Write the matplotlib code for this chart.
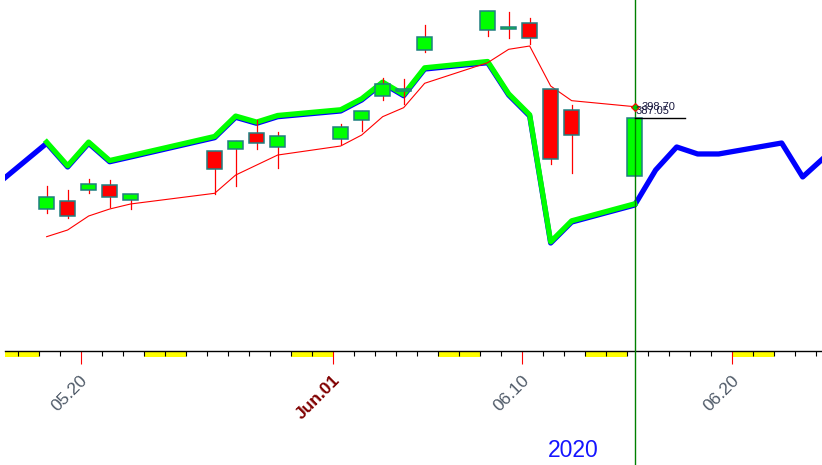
import numpy as np
import matplotlib
matplotlib.use("Agg")
import matplotlib.pyplot as plt
import matplotlib.transforms as mtransforms
from matplotlib.patches import Rectangle

plt.rcParams['font.family'] = ['Liberation Sans', 'DejaVu Sans']

# ---- data ----
dates = ["2020-05-18", "2020-05-19", "2020-05-20", "2020-05-21", "2020-05-22",
         "2020-05-26", "2020-05-27", "2020-05-28", "2020-05-29", "2020-06-01",
         "2020-06-02", "2020-06-03", "2020-06-04", "2020-06-05", "2020-06-08",
         "2020-06-09", "2020-06-10", "2020-06-11", "2020-06-12", "2020-06-15"]
opens  = [293.0, 301.6, 312.6, 318.0, 302.9, 353.1, 354.8, 371.6, 356.9, 365.1,
          384.7, 409.4, 415.2, 456.8, 477.4, 478.4, 484.6, 416.6, 395.0, 327.3]
highs  = [317.0, 312.9, 324.2, 323.2, 308.5, 353.1, 363.4, 385.0, 372.9, 380.9,
          394.0, 428.3, 427.2, 482.8, 497.0, 495.9, 489.7, 416.6, 400.1, 387.05]
lows   = [289.5, 284.4, 309.5, 295.7, 293.0, 308.5, 317.3, 354.8, 335.9, 359.8,
          374.0, 405.6, 401.2, 455.3, 471.8, 469.8, 463.0, 339.4, 330.1, 327.3]
closes = [305.4, 286.1, 318.8, 305.4, 308.5, 334.2, 363.4, 361.0, 368.2, 377.5,
          394.0, 421.8, 416.6, 470.2, 497.0, 480.5, 469.1, 344.5, 369.2, 387.05]

# thin red average line
avg_line = [264.8, 271.7, 286.1, 293.3, 298.5, 309.5, 328.3, 338.6, 348.9, 358.2,
            369.5, 388.4, 397.7, 422.8, 444.0, 457.8, 461.2, 420.0, 404.9, 398.7]

# thick indicator (green on history, blue incl. projection)
ind_hist = [361.0, 336.6, 361.0, 342.0, 346.9, 366.8, 387.8, 381.6, 388.4, 394.3,
            405.6, 422.8, 410.0, 437.5, 444.0, 410.7, 389.1, 258.3, 279.9, 297.4]
pre_dates = ["2020-05-15"]
pre_vals = [307.3]
fut_dates = ["2020-06-16", "2020-06-17", "2020-06-18", "2020-06-19",
             "2020-06-22", "2020-06-23", "2020-06-24"]
fut_vals = [333.5, 357.2, 350.0, 350.0, 361.3, 326.3, 345.9]

weekends = ["2020-05-16", "2020-05-23", "2020-05-30", "2020-06-06",
            "2020-06-13", "2020-06-20"]
major_ticks = ["2020-05-20", "2020-06-01", "2020-06-10", "2020-06-20"]
major_labels = ["05.20", "Jun.01", "06.10", "06.20"]
last_avg_txt = "398.70"
last_close_txt = "387.05"

# ---- helpers ----
base = np.datetime64("2020-05-20")
shift = 0.35  # bars sit a bit right of the day tick


def day(d):
    return (np.datetime64(d) - base).astype(int)


x = np.array([day(d) for d in dates]) + shift
x_blue = np.array([day(d) for d in pre_dates + dates + fut_dates]) + shift
y_blue = pre_vals + ind_hist + fut_vals

fig = plt.figure(figsize=(8.22, 4.65), dpi=100)
ax = fig.add_axes([5 / 822, 114 / 465, 817 / 822, 351 / 465])
xmin, xmax = -3.633, 35.27
ax.set_xlim(xmin, xmax)
ax.set_ylim(147.06, 508.59)

for s in ['left', 'right', 'top']:
    ax.spines[s].set_visible(False)
ax.spines['bottom'].set_linewidth(1.0)
ax.set_yticks([])

# thick lines
ax.plot(x_blue, y_blue, color='#0000ff', lw=3.8, zorder=3)
green_tr = mtransforms.offset_copy(ax.transData, fig=fig, x=0, y=1.2, units='dots')
ax.plot(x, ind_hist, color='#00ff00', lw=3.8, transform=green_tr, zorder=4)

# thin red line
ax.plot(x, avg_line, color='#ff0000', lw=0.8, zorder=5)

# candles
w = 0.73
for xi, o, h, l, c in zip(x, opens, highs, lows, closes):
    ax.plot([xi, xi], [l, h], color='#ff0000', lw=0.9, zorder=6)
    fc = '#00ff00' if c >= o else '#ff0000'
    ax.add_patch(Rectangle((xi - w / 2, min(o, c)), w, max(abs(c - o), 0.8),
                           facecolor=fc, edgecolor='#1f7f80', lw=1.1, zorder=7))

# last values
xl = x[-1]
ax.plot([xl], [avg_line[-1]], marker='D', ms=4, mfc='#00cc00', mec='#ff0000',
        mew=0.8, zorder=9)
ax.plot([xl, xl + 2.38], [closes[-1], closes[-1]], color='black', lw=1, zorder=9)
ax.annotate(last_avg_txt, (xl, avg_line[-1]), xytext=(5, 0), textcoords='offset points',
            fontsize=8, color='#1a1a40', va='center', ha='left', zorder=10)
ax.annotate(last_close_txt, (xl, closes[-1]), xytext=(1, 5), textcoords='offset points',
            fontsize=8, color='#1a1a40', va='center', ha='left', zorder=10)

# current-day vertical line across the whole figure
vtr = mtransforms.blended_transform_factory(ax.transData, fig.transFigure)
ax.plot([xl, xl], [0, 1], color='#008000', lw=1, transform=vtr, clip_on=False, zorder=8)

# weekend bars under the axis
btr = ax.get_xaxis_transform()
for d in weekends:
    a = max(day(d), xmin)
    b = min(day(d) + 2, xmax)
    ax.add_patch(Rectangle((a, -6 / 351), b - a, 6 / 351, transform=btr,
                           facecolor='#ffff00', edgecolor='none', clip_on=False, zorder=1))

# ticks
major_x = [day(d) for d in major_ticks]
minor_x = [d for d in range(int(np.ceil(xmin)), int(xmax) + 1) if d not in major_x]
ax.set_xticks(major_x)
ax.set_xticklabels([])
ax.set_xticks(minor_x, minor=True)
ax.tick_params(axis='x', which='major', direction='out', length=9.4, width=0.8,
               color='#ff0000')
ax.tick_params(axis='x', which='minor', direction='out', length=3.6, width=0.8,
               color='black')

for mx, lab in zip(major_x, major_labels):
    bold = lab.startswith("Jun")
    ax.annotate(lab, (mx, 0), xycoords=('data', 'axes fraction'),
                xytext=(6.8, -15.5), textcoords='offset points', rotation=45,
                ha='right', va='top', fontsize=12.5,
                color='#800000' if bold else '#4d5866',
                fontweight='bold' if bold else 'normal')

fig.text(573 / 822, 1 - 450 / 465, "2020", color='#1515ff', fontsize=16.5,
         ha='center', va='center')

fig.savefig("out.png", dpi=100)
